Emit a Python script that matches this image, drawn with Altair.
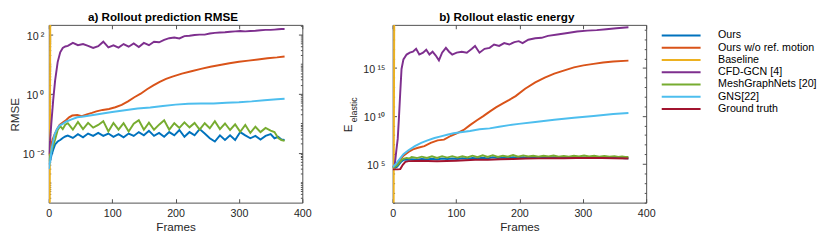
import altair as alt
import pandas as pd

# ---------------- series names / colours ----------------
SERIES = ["Ours", "Ours w/o ref. motion", "Baseline", "CFD-GCN [4]",
          "MeshGraphNets [20]", "GNS[22]", "Ground truth"]
COLORS = ["#0072BD", "#D95319", "#EDB120", "#7E2F8E", "#77AC30", "#4DBEEE", "#A2142F"]

# ---------------- shared frame grids ----------------
frames_w = [0, 2, 4, 7, 10, 14, 18, 22, 26,
            30, 38, 46, 54, 62, 70, 78, 86, 94, 102,
            110, 118, 126, 134, 142, 150, 158, 166, 174, 182,
            190, 198, 206, 214, 222, 230, 238, 246, 254, 262,
            270, 278, 286, 294, 302, 310, 318, 326, 334, 342,
            350,
            356, 362, 367, 372]
frames_baseline = [0, 1, 3]

# ---------------- a) RMSE (values are log10 of RMSE) ----------------
rmse_log_ours = [-2.4, -2.3, -2.1, -1.9, -1.72, -1.62, -1.57, -1.5, -1.45,
                 -1.42, -1.5, -1.37, -1.48, -1.35, -1.43, -1.33, -1.43, -1.35, -1.46,
                 -1.37, -1.48, -1.35, -1.43, -1.3, -1.41, -1.26, -1.43, -1.33, -1.46,
                 -1.3, -1.41, -1.23, -1.46, -1.3, -1.41, -1.2, -1.35, -1.51, -1.62,
                 -1.41, -1.57, -1.41, -1.57, -1.3, -1.41, -1.51, -1.43, -1.55, -1.43,
                 -1.37,
                 -1.51, -1.46, -1.55, -1.57]
rmse_log_mgn = [-2.3, -2.1, -1.95, -1.75, -1.55, -1.23, -1.1, -1.2, -1.05,
                -1.0, -1.22, -0.96, -1.2, -0.99, -1.15, -1.06, -0.93, -1.28, -0.99,
                -1.22, -1.0, -1.28, -1.02, -0.9, -1.22, -0.98, -1.22, -1.05, -0.9,
                -1.22, -1.0, -1.16, -0.97, -1.14, -0.99, -1.22, -1.0, -1.17, -0.93,
                -1.2, -1.01, -1.23, -1.04, -1.29, -1.06, -1.33, -1.12, -1.3, -1.16,
                -1.25,
                -1.3, -1.5, -1.57, -1.6]
rmse_log_cfd = [-2.05, -1.6, -1.0, -0.2, 0.45, 1.07, 1.4, 1.55, 1.6,
                1.62, 1.72, 1.64, 1.68, 1.62, 1.55, 1.61, 1.76, 1.57, 1.64,
                1.56, 1.68, 1.59, 1.7, 1.58, 1.72, 1.64, 1.76, 1.74, 1.82,
                1.88, 1.9, 1.87, 1.95, 1.96, 1.99, 2.0, 2.0, 2.04, 2.06,
                2.07, 2.08, 2.1, 2.11, 2.12, 2.11, 2.12, 2.13, 2.15, 2.16,
                2.16,
                2.17, 2.18, 2.19, 2.19]
rmse_frames_noref = [0, 3, 6, 9, 13, 17, 22, 27, 32, 37,
                     45, 52, 60, 68, 75, 85, 95, 105, 115, 125,
                     135, 145, 155, 165, 175, 185, 195, 210, 225, 240,
                     255, 270, 285, 300, 315, 330, 345, 360, 372]
rmse_log_noref = [-2.1, -1.8, -1.55, -1.39, -1.2, -1.06, -0.98, -0.9, -0.8, -0.74,
                  -0.72, -0.76, -0.7, -0.65, -0.6, -0.55, -0.52, -0.46, -0.38, -0.26,
                  -0.12, 0.0, 0.15, 0.28, 0.4, 0.5, 0.58, 0.68, 0.76, 0.84,
                  0.91, 0.97, 1.03, 1.08, 1.12, 1.16, 1.2, 1.23, 1.26]
rmse_frames_gns = [0, 2, 5, 9, 13, 17, 22, 27, 35, 45,
                   55, 70, 85, 100, 120, 140, 160, 180, 200, 220,
                   240, 260, 280, 300, 320, 340, 360, 372]
rmse_log_gns = [-2.55, -2.3, -1.8, -1.39, -1.2, -1.08, -1.02, -0.95, -0.88, -0.8,
                -0.77, -0.72, -0.67, -0.62, -0.56, -0.5, -0.47, -0.42, -0.37, -0.34,
                -0.33, -0.33, -0.31, -0.29, -0.26, -0.22, -0.19, -0.17]
rmse_log_baseline = [-8, -8, 8]

# ---------------- b) elastic energy (values are log10 of E) ----------------
e_log_ours = [4.66, 4.62, 4.6, 4.7, 4.95, 5.25, 5.42, 5.45, 5.42,
              5.48, 5.44, 5.5, 5.45, 5.52, 5.45, 5.55, 5.5, 5.56, 5.5,
              5.58, 5.52, 5.62, 5.55, 5.64, 5.57, 5.68, 5.6, 5.66, 5.6,
              5.7, 5.62, 5.68, 5.62, 5.66, 5.62, 5.67, 5.63, 5.68, 5.63,
              5.66, 5.62, 5.67, 5.63, 5.67, 5.63, 5.66, 5.62, 5.65, 5.61,
              5.63,
              5.6, 5.6, 5.58, 5.58]
e_log_mgn = [4.66, 4.66, 4.7, 4.85, 5.1, 5.4, 5.55, 5.62, 5.55,
             5.7, 5.6, 5.75, 5.62, 5.78, 5.62, 5.8, 5.65, 5.8, 5.65,
             5.78, 5.66, 5.85, 5.7, 5.88, 5.72, 5.9, 5.72, 5.85, 5.75,
             5.92, 5.75, 5.88, 5.76, 5.85, 5.75, 5.84, 5.76, 5.86, 5.75,
             5.82, 5.74, 5.84, 5.76, 5.86, 5.76, 5.84, 5.75, 5.82, 5.74,
             5.8,
             5.72, 5.76, 5.72, 5.72]
e_frames_cfd = [0, 3, 6, 8, 10, 12, 14, 17,
                22, 27, 32, 37, 42, 48, 53, 58, 63, 68, 73, 78,
                84, 89, 94, 101, 109, 117, 125, 130, 137, 145,
                153, 160, 168, 176, 184, 192, 199, 205, 214, 225,
                235, 245, 260, 276, 291, 307, 322, 337, 353, 372]
e_log_cfd = [4.66, 4.7, 6.5, 7.6, 9.9, 12.5, 14.9, 15.9,
             16.4, 16.6, 16.7, 17.0, 16.4, 16.6, 16.9, 16.4, 16.7, 16.3, 15.8, 16.6,
             17.1, 16.7, 16.4, 16.6, 16.7, 16.6, 17.0, 17.3, 16.6, 17.0,
             17.1, 17.45, 17.3, 17.6, 17.45, 17.7, 17.8, 17.6, 17.95, 18.1,
             18.15, 18.35, 18.5, 18.65, 18.8, 18.9, 18.95, 19.05, 19.15, 19.25]
e_frames_noref = [0, 4, 9, 17, 25, 32, 40, 50, 60, 71,
                  81, 92, 101, 112, 122, 133, 143, 153, 163, 174,
                  184, 194, 209, 225, 240, 255, 271, 286, 301, 317,
                  332, 348, 372]
e_log_noref = [4.66, 4.9, 5.16, 5.84, 6.24, 6.5, 6.68, 6.85, 7.18, 7.45,
               7.52, 7.93, 8.19, 8.53, 9.04, 9.55, 9.98, 10.45, 10.89, 11.3,
               11.67, 12.07, 12.84, 13.5, 13.99, 14.42, 14.76, 15.07, 15.27, 15.43,
               15.57, 15.67, 15.77]
e_frames_gns = [0, 4, 9, 17, 25, 35, 45, 55, 66, 76,
                86, 96, 107, 122, 137, 153, 168, 184, 199, 225,
                255, 286, 317, 348, 372]
e_log_gns = [4.66, 4.9, 5.33, 6.0, 6.41, 6.85, 7.18, 7.45, 7.69, 7.86,
             8.03, 8.19, 8.3, 8.43, 8.6, 8.7, 8.87, 9.04, 9.17, 9.37,
             9.6, 9.8, 10.0, 10.2, 10.3]
e_frames_gt = [0, 4, 8, 12, 16, 20, 25, 35, 45, 55,
               70, 85, 100, 115, 130, 150, 170, 190, 210, 230,
               250, 270, 290, 310, 330, 350, 372]
e_log_gt = [4.42, 4.42, 4.42, 4.45, 4.9, 5.2, 5.28, 5.3, 5.33, 5.3,
            5.26, 5.3, 5.33, 5.38, 5.43, 5.43, 5.48, 5.5, 5.55, 5.57,
            5.58, 5.58, 5.6, 5.6, 5.6, 5.58, 5.55]
e_log_baseline = [-10, -10, 30]

# ---------------- axis ticks / labels ----------------
x_ticks = [0, 100, 200, 300, 400]
rmse_major = [1e-2, 1e0, 1e2]
rmse_labels = ["10\u2009\u207b\u00b2", "10\u2009\u2070", "10\u2009\u00b2"]
e_major = [1e5, 1e10, 1e15]
e_labels = ["10\u2009\u2075", "10\u2009\u00b9\u2070", "10\u2009\u00b9\u2075"]
rmse_domain = [10 ** -3.69, 10 ** 2.33]
e_domain = [10 ** 0.95, 10 ** 19.5]
rmse_minor = [m * 10.0 ** k for k in range(-4, 3) for m in range(1, 10)
              if rmse_domain[0] <= m * 10.0 ** k <= rmse_domain[1] and m * 10.0 ** k not in rmse_major]
e_minor = [10.0 ** k for k in range(1, 20) if 10.0 ** k not in e_major]


def sdf(name, frames, logs):
    assert len(frames) == len(logs), name
    return pd.DataFrame({"frame": frames, "value": [10.0 ** v for v in logs], "series": name})


df_rmse = pd.concat([
    sdf(SERIES[0], frames_w, rmse_log_ours),
    sdf(SERIES[1], rmse_frames_noref, rmse_log_noref),
    sdf(SERIES[2], frames_baseline, rmse_log_baseline),
    sdf(SERIES[3], frames_w, rmse_log_cfd),
    sdf(SERIES[4], frames_w, rmse_log_mgn),
    sdf(SERIES[5], rmse_frames_gns, rmse_log_gns),
], ignore_index=True)

df_e = pd.concat([
    sdf(SERIES[0], frames_w, e_log_ours),
    sdf(SERIES[1], e_frames_noref, e_log_noref),
    sdf(SERIES[2], frames_baseline, e_log_baseline),
    sdf(SERIES[3], e_frames_cfd, e_log_cfd),
    sdf(SERIES[4], frames_w, e_log_mgn),
    sdf(SERIES[5], e_frames_gns, e_log_gns),
    sdf(SERIES[6], e_frames_gt, e_log_gt),
], ignore_index=True)

W, H = 261, 183
FONT = "Liberation Sans"
AX = "#262626"
TICK = "#4d4d4d"


def label_expr(values, labels):
    import math
    expr = "''"
    for v, l in zip(values, labels):
        expr = f"abs(log(datum.value)/LN10 - {round(math.log10(v))}) < 0.01 ? '{l}' : " + expr
    return expr


def tick_axis(orient, offset, values, size, **kw):
    return alt.Axis(orient=orient, offset=offset, values=values, labels=False, domain=False,
                    grid=False, ticks=True, tickSize=size, tickWidth=1, tickColor=TICK,
                    title=kw.pop("title", None), **kw)


def panel(df, title, ydomain, major, labels, minor, ytitle, y_label_pad, ytitle_x, ytitle_y,
          sub=None):
    xs = alt.Scale(domain=[0, 400], nice=False, zero=False)
    ys = alt.Scale(type="log", domain=ydomain, nice=False)
    color = alt.Color("series:N", sort=SERIES,
                      scale=alt.Scale(domain=SERIES, range=COLORS),
                      legend=alt.Legend(title=None, orient="right", offset=1, padding=5,
                                        symbolType="M-4,0H4", symbolSize=100,
                                        symbolStrokeWidth=2, symbolOffset=14,
                                        labelOffset=32, labelFont=FONT, labelFontSize=11,
                                        labelColor="#000000", rowPadding=1.6, labelLimit=300))
    lines = alt.Chart(df).mark_line(clip=True, strokeWidth=2).encode(
        x=alt.X("frame:Q", scale=xs, axis=alt.Axis(
            orient="bottom", values=x_ticks, ticks=False, domain=False, grid=False,
            labelPadding=5, labelFont=FONT, labelFontSize=11, labelColor=AX, labelFlush=False,
            title="Frames", titleFont=FONT, titleFontSize=12, titleFontWeight="normal",
            titleColor=AX, titlePadding=4)),
        y=alt.Y("value:Q", scale=ys, axis=alt.Axis(
            orient="left", values=major, labelExpr=label_expr(major, labels), ticks=False,
            domain=False, grid=False, labelPadding=y_label_pad, labelFont=FONT,
            labelFontSize=11, labelColor=AX, labelOffset=2,
            title=ytitle, titleFont=FONT, titleFontSize=12, titleFontWeight="normal",
            titleColor=AX, titleAngle=270, titleX=ytitle_x, titleY=ytitle_y,
            titleAlign="center", titleBaseline="middle")),
        color=color,
    )

    def ghost(xaxis, yaxis):
        return alt.Chart(df).mark_point(opacity=0, size=1, clip=True).encode(
            x=alt.X("frame:Q", scale=xs, axis=xaxis),
            y=alt.Y("value:Q", scale=ys, axis=yaxis))

    sub_kw = {}
    if sub is not None:
        sub_kw = dict(title=sub[0], titleFont=FONT, titleFontSize=9, titleFontWeight="normal",
                      titleColor=AX, titleAngle=270, titleX=sub[1], titleY=sub[2],
                      titleAlign="center", titleBaseline="middle")

    g2 = ghost(tick_axis("top", -H, x_ticks, 4), tick_axis("right", -W, major, 4))
    g3 = ghost(tick_axis("bottom", -H, x_ticks, 4), tick_axis("left", -W, major, 4))
    g4 = ghost(None, tick_axis("right", -W, minor, 2, **sub_kw))
    g5 = ghost(None, tick_axis("left", -W, minor, 2))

    return alt.layer(lines, g2, g3, g4, g5).resolve_axis(
        x="independent", y="independent").properties(
        width=W, height=H,
        title=alt.TitleParams(title, font=FONT, fontSize=12, fontWeight="bold", color="#000000",
                              anchor="middle", frame="group", offset=0, dx=-13))


left = panel(df_rmse, "a) Rollout prediction RMSE", rmse_domain, rmse_major, rmse_labels,
             rmse_minor, "RMSE", 5, -35, 92)
right = panel(df_e, "b) Rollout elastic energy", e_domain, e_major, e_labels, e_minor,
              "E", 8, -46, 106, sub=("elastic", -40, 87))

chart = alt.hconcat(left, right, spacing=30).properties(
    padding={"left": 0, "top": 0, "right": 0, "bottom": 0}
).configure_view(stroke=TICK, strokeWidth=1)

chart.save("out.html", embed_options={"renderer": "svg", "actions": False})
